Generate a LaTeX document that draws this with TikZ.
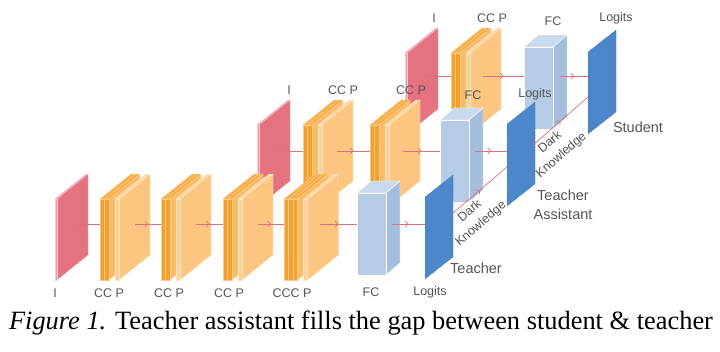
\documentclass[tikz,border=0pt]{standalone}
\usepackage{fontspec}
\setmainfont{Liberation Serif}
\setsansfont{Liberation Sans}
\usetikzlibrary{arrows.meta,decorations.markings}
\definecolor{convFront}{HTML}{F4A02C}
\definecolor{convSide}{HTML}{F8BC66}
\definecolor{convTop}{HTML}{F7AE47}
\definecolor{poolFront}{HTML}{FBD096}
\definecolor{poolSide}{HTML}{FCC680}
\definecolor{poolTop}{HTML}{FDD8A6}
\definecolor{inputFront}{HTML}{F09AA5}
\definecolor{inputSide}{HTML}{E5727F}
\definecolor{inputTop}{HTML}{EE9AA4}
\definecolor{fcFront}{HTML}{B6CBE5}
\definecolor{fcSide}{HTML}{A6BEDD}
\definecolor{fcTop}{HTML}{C9D9EE}
\definecolor{logitBlue}{HTML}{4B87CA}
\definecolor{flowRed}{HTML}{D9727C}
\definecolor{labelGray}{HTML}{555555}

\newcommand{\fmslab}[6]{%
  \filldraw[fill=#5, draw=white!45!#5, line width=0.3pt] ({#1+#3},{#2}) -- ++(31,-25) -- ++(0,81) -- ++(-31,25) -- cycle;
  \filldraw[fill=#6, draw=white!45!#6, line width=0.3pt] ({#1},{#2}) -- ++({#3},0) -- ++(31,-25) -- ++({-#3},0) -- cycle;
  \filldraw[fill=#4, draw=white!45!#4, line width=0.3pt] ({#1},{#2}) rectangle ++({#3},81);
}
\newcommand{\convlayer}[2]{\fmslab{#1}{#2}{4.5}{convFront}{convSide}{convTop}}
\newcommand{\poollayer}[2]{\fmslab{#1}{#2}{4}{poolFront}{poolSide}{poolTop}}
\newcommand{\inputplane}[2]{\fmslab{#1}{#2}{2}{inputFront}{inputSide}{inputTop}}
\newcommand{\ccpblock}[3]{%
  \foreach \k in {1,...,#3}{\convlayer{#1+4.5*(\k-1)}{#2}}
  \poollayer{#1+4.5*#3+6}{#2}
}
\newcommand{\fcblock}[2]{%
  \filldraw[fill=fcSide, draw=white, line width=0.4pt] ({#1+29},{#2}) -- ++(14,-12) -- ++(0,82) -- ++(-14,12) -- cycle;
  \filldraw[fill=fcTop, draw=white, line width=0.4pt] ({#1},{#2}) -- ++(29,0) -- ++(14,-12) -- ++(-29,0) -- cycle;
  \filldraw[fill=fcFront, draw=white, line width=0.4pt] ({#1},{#2}) rectangle ++(29,82);
}
\newcommand{\logitplane}[2]{%
  \filldraw[fill=logitBlue, draw=logitBlue!85!black, densely dotted, line width=0.5pt] ({#1},{#2}) -- ++(28,-22) -- ++(0,82) -- ++(-28,22) -- cycle;
}

\tikzset{
  flow/.style={draw=flowRed, line width=0.7pt, postaction=decorate,
    decoration={markings, mark=at position 0.5 with {\arrow{Straight Barb[length=3pt,width=6pt]}}}},
  role/.style={font=\sffamily\fontsize{14.5}{19.5}\selectfont, align=center},
  dark/.style={font=\sffamily\fontsize{12.5}{17}\selectfont, align=center, sloped, below=0pt, pos=0.2}
}

\begin{document}
\begin{tikzpicture}[x=1pt, y=-1pt, every node/.style={font=\sffamily\fontsize{12.5}{14}\selectfont, text=labelGray}]
  \useasboundingbox (0,0) rectangle (720,351);

  \inputplane{405}{53}
  \ccpblock{451}{53}{2}
  \fcblock{524}{47}
  \logitplane{588}{52}
  \foreach \a/\b [count=\i] in {425/451,483/524,560/588}{
    \coordinate (s\i a) at (\a,76);
    \coordinate (s\i b) at (\b,76);
    \draw[flow] (s\i a) -- (s\i b);
  }
  \foreach \x/\y/\t [count=\i] in {434/18/I,492/18/CC P,553/21/FC,616/18/Logits}{
    \node (sl\i) at (\x,\y) {\t};
  }

  \inputplane{257}{125}
  \ccpblock{303}{125}{2}
  \ccpblock{370}{125}{2}
  \fcblock{440}{120}
  \logitplane{507}{124}
  \foreach \a/\b [count=\i] in {277/303,337/370,403/440,475/507}{
    \coordinate (a\i a) at (\a,151);
    \coordinate (a\i b) at (\b,151);
    \draw[flow] (a\i a) -- (a\i b);
  }
  \foreach \x/\y/\t [count=\i] in {289/90/I,343/90/CC P,411/90/CC P,473/95/FC,535/94/Logits}{
    \node (al\i) at (\x,\y) {\t};
  }

  \inputplane{55}{199}
  \ccpblock{100}{199}{2}
  \ccpblock{161}{199}{2}
  \ccpblock{223}{199}{2}
  \ccpblock{284}{199}{3}
  \fcblock{357}{193}
  \logitplane{425}{197}
  \foreach \a/\b [count=\i] in {74/100,135/161,196/223,258/284,320/357,392/425}{
    \coordinate (t\i a) at (\a,224);
    \coordinate (t\i b) at (\b,224);
    \draw[flow] (t\i a) -- (t\i b);
  }
  \foreach \x/\y/\t [count=\i] in {55/293/I,109/293/CC P,169/293/CC P,229/293/CC P,292/293/CCC P,371/292/FC,430/292/Logits}{
    \node (tl\i) at (\x,\y) {\t};
  }

  \coordinate (tOut) at (453,213);
  \coordinate (aIn) at (507,167);
  \coordinate (aOut) at (533,145);
  \coordinate (sIn) at (588,97);
  \draw[flow] (tOut) -- node[dark] (dk1) {Dark\\Knowledge} (aIn);
  \draw[flow] (aOut) -- node[dark] (dk2) {Dark\\Knowledge} (sIn);

  \node[role] (teacher) at (476,268) {Teacher};
  \node[role] (assistant) at (563,205) {Teacher\\Assistant};
  \node[role] (student) at (638,127) {Student};

  \node[anchor=base, text=black, font=\rmfamily\fontsize{26.4}{30}\selectfont] (caption) at (361,329) {\textit{Figure 1.} Teacher assistant fills the gap between student \& teacher};
\end{tikzpicture}
\end{document}
